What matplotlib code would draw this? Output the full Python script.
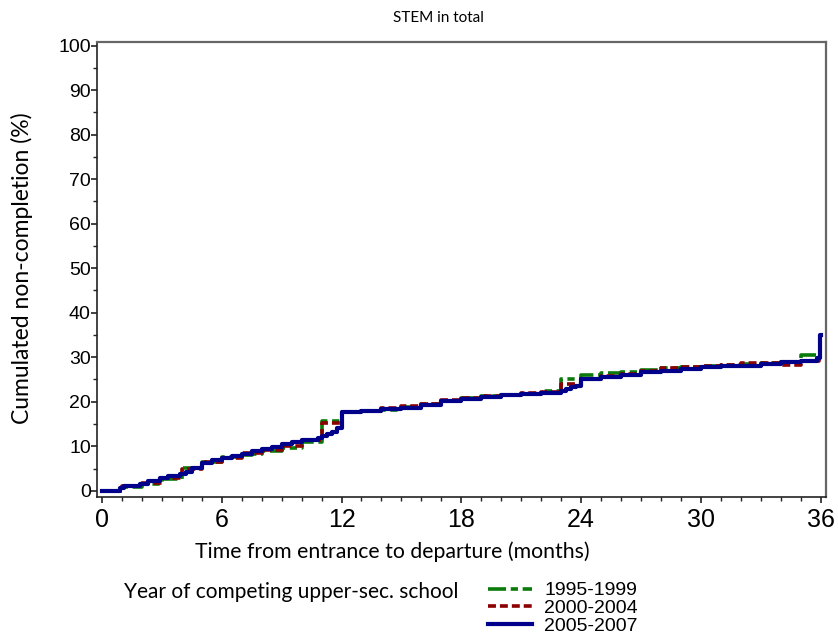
import matplotlib.pyplot as plt
from matplotlib.ticker import MultipleLocator

# ---- data (months, cumulated %) ----
t_9599 = [0, 1.0, 2.0, 3.0, 4.0, 5.0, 6.0, 7.0, 7.5, 8.0, 9.0, 10.0, 11.0, 12.0,
          13.0, 14.0, 15.0, 16.0, 17.0, 18.0, 19.0, 20.0, 21.0, 22.0, 23.0, 24.0,
          25.0, 26.0, 27.0, 28.0, 29.0, 30.0, 31.0, 32.0, 33.0, 34.0, 35.0, 35.9, 36.0]
v_9599 = [0, 0.9, 1.6, 2.7, 5.2, 6.4, 7.5, 8.0, 8.3, 9.0, 9.6, 10.9, 15.7, 17.6,
          17.9, 18.2, 18.9, 19.6, 20.2, 20.8, 21.2, 21.4, 21.8, 22.4, 25.2, 26.1,
          26.4, 26.6, 27.1, 27.6, 27.8, 28.0, 28.2, 28.5, 28.7, 28.9, 30.6, 29.8, 29.8]

t_0004 = [0, 1.0, 2.0, 3.0, 4.0, 5.0, 6.0, 7.0, 8.0, 9.0, 10.0, 11.0, 12.0,
          13.0, 14.0, 15.0, 16.0, 17.0, 18.0, 19.0, 20.0, 21.0, 22.0, 23.0, 24.0,
          25.0, 26.0, 27.0, 28.0, 29.0, 30.0, 31.0, 32.0, 33.0, 34.0, 35.0, 35.9, 36.0]
v_0004 = [0, 1.0, 1.8, 2.9, 5.0, 6.5, 7.3, 8.5, 9.2, 10.0, 11.3, 15.3, 17.7,
          18.0, 18.5, 19.0, 19.5, 20.3, 20.8, 21.2, 21.6, 21.9, 22.2, 24.0, 25.0,
          25.8, 26.2, 26.8, 27.5, 27.8, 28.0, 28.3, 28.6, 28.8, 28.3, 29.2, 29.6, 29.6]

t_0507 = [0, 0.9, 1.1, 1.9, 2.3, 2.9, 3.3, 3.9, 4.2, 4.5, 5.0, 5.5, 6.0, 6.5, 7.0,
          7.5, 8.0, 8.5, 9.0, 9.5, 10.0, 10.8, 11.0, 11.25, 11.5, 11.75, 12.0, 13.0,
          14.0, 15.0, 16.0, 17.0, 18.0, 19.0, 20.0, 21.0, 22.0, 23.0, 23.25, 23.5,
          23.75, 24.0, 25.0, 26.0, 27.0, 28.0, 29.0, 30.0, 31.0, 32.0, 33.0, 34.0,
          35.0, 35.8, 35.95, 36.0]
v_0507 = [0, 0.6, 1.0, 1.6, 2.2, 2.9, 3.3, 3.7, 4.3, 5.2, 6.3, 6.8, 7.4, 7.9, 8.3,
          8.9, 9.3, 9.9, 10.5, 11.0, 11.5, 11.8, 12.2, 12.7, 13.2, 14.0, 17.6, 17.9,
          18.3, 18.7, 19.3, 20.1, 20.7, 21.0, 21.4, 21.7, 22.0, 22.5, 22.9, 23.2,
          23.6, 25.1, 25.6, 26.0, 26.6, 26.9, 27.4, 27.8, 28.0, 28.1, 28.4, 28.9,
          29.2, 29.8, 35.0, 35.0]

labels = ['1995-1999', '2000-2004', '2005-2007']
colors = ['#0a7a0a', '#8b0000', '#00008b']

narrow = ['Liberation Sans Narrow', 'Liberation Sans', 'DejaVu Sans']
calib = ['Lato', 'Open Sans', 'DejaVu Sans']

fig = plt.figure(figsize=(8.38, 6.34), dpi=100)
ax = fig.add_axes([97 / 838, 137 / 634, 729 / 838, 455 / 634])

l1, = ax.step(t_9599, v_9599, where='post', color=colors[0], lw=2.6,
              dashes=(5, 1.3, 2, 1.3))
l2, = ax.step(t_0004, v_0004, where='post', color=colors[1], lw=2.6,
              dashes=(2.2, 1.1))
l3, = ax.step(t_0507, v_0507, where='post', color=colors[2], lw=3.0)

ax.set_xlim(-0.25, 36.27)
ax.set_ylim(-1.4, 100.8)
ax.xaxis.set_major_locator(MultipleLocator(6))
ax.xaxis.set_minor_locator(MultipleLocator(1))
ax.yaxis.set_major_locator(MultipleLocator(10))
ax.yaxis.set_minor_locator(MultipleLocator(5))
ax.tick_params(which='major', length=4, width=1.2, color='#222222')
ax.tick_params(which='minor', length=3, width=1.0, color='#222222')
ax.tick_params(axis='x', labelsize=18, pad=4)
ax.tick_params(axis='y', labelsize=14, pad=0.5)
for lab in ax.get_xticklabels() + ax.get_yticklabels():
    lab.set_family(narrow)

for s in ['left', 'bottom']:
    ax.spines[s].set_color('#222222')
    ax.spines[s].set_linewidth(1.2)
for s in ['top', 'right']:
    ax.spines[s].set_color('#666666')
    ax.spines[s].set_linewidth(1.6)

fig.text(438 / 838, 1 - 18 / 634, 'STEM in total', ha='center', va='center',
         fontsize=11, family=calib)
fig.text(22 / 838, 1 - 268 / 634, 'Cumulated non-completion (%)', rotation=90,
         ha='center', va='center', fontsize=16.5, family=calib)
fig.text(392 / 838, 1 - 552 / 634, 'Time from entrance to departure (months)',
         ha='center', va='center', fontsize=15.3, family=calib)
fig.text(458 / 838, 1 - 592 / 634, 'Year of competing upper-sec. school',
         ha='right', va='center', fontsize=15, family=calib)

leg = fig.legend([l1, l2, l3], labels, loc='upper left',
                 bbox_to_anchor=(478 / 838, 1 - 572 / 634), frameon=False,
                 handlelength=2.3, handletextpad=0.6, labelspacing=0.0,
                 borderpad=0, prop={'family': narrow, 'size': 14})

fig.savefig('out.png', dpi=100)
